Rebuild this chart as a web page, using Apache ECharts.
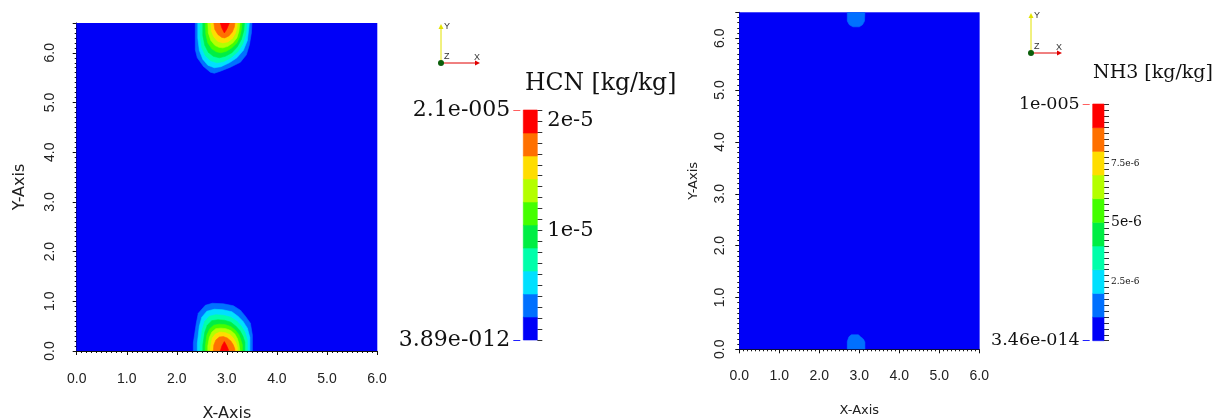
<!DOCTYPE html>
<html><head><meta charset="utf-8">
<script src="https://cdn.jsdelivr.net/npm/echarts@6/dist/echarts.min.js"></script>
<style>html,body{margin:0;padding:0;background:#fff}#c{width:1215px;height:418px}</style>
</head><body><div id="c"></div>
<script>
// ---------- DATA (concentrations in units of 1e-6 kg/kg) ----------
// Contour outlines [x, y] of each filled band.
// HCN, lower blob: band values (mid of band) and outlines
const hcnLowLevels = [3, 5, 7.5, 9.5, 11.5, 13.5, 16, 18, 20.5];
const hcnLowC1 = [[2.33,0],[2.33,0.16],[2.39,0.56],[2.43,0.76],[2.57,0.92],[2.71,0.96],[2.93,0.95],[3.13,0.91],[3.27,0.82],[3.37,0.70],[3.47,0.56],[3.51,0.32],[3.51,0]];
const hcnLowC2 = [[2.41,0],[2.41,0.15],[2.45,0.5],[2.5,0.68],[2.6,0.8],[2.75,0.84],[2.92,0.83],[3.1,0.79],[3.22,0.7],[3.32,0.6],[3.41,0.46],[3.46,0.27],[3.46,0]];
const hcnLowC3 = [[2.47,0],[2.47,0.14],[2.51,0.44],[2.56,0.6],[2.65,0.7],[2.78,0.73],[2.93,0.72],[3.08,0.68],[3.2,0.6],[3.29,0.5],[3.36,0.38],[3.41,0.22],[3.41,0]];
const hcnLowC4 = [[2.52,0],[2.52,0.12],[2.56,0.38],[2.61,0.52],[2.7,0.61],[2.82,0.63],[2.95,0.62],[3.08,0.58],[3.18,0.5],[3.26,0.41],[3.32,0.3],[3.36,0.18],[3.36,0]];
const hcnLowC5 = [[2.57,0],[2.57,0.1],[2.6,0.32],[2.66,0.45],[2.74,0.52],[2.85,0.54],[2.97,0.53],[3.08,0.49],[3.17,0.42],[3.24,0.33],[3.28,0.22],[3.31,0.12],[3.31,0]];
const hcnLowC6 = [[2.62,0],[2.62,0.1],[2.65,0.27],[2.7,0.38],[2.78,0.45],[2.88,0.46],[2.98,0.45],[3.08,0.41],[3.16,0.34],[3.21,0.25],[3.24,0.15],[3.26,0]];
const hcnLowC7 = [[2.67,0],[2.68,0.12],[2.71,0.26],[2.77,0.34],[2.86,0.38],[2.96,0.37],[3.06,0.33],[3.13,0.26],[3.18,0.17],[3.21,0.07],[3.21,0]];
const hcnLowC8 = [[2.73,0],[2.74,0.12],[2.78,0.22],[2.85,0.28],[2.93,0.29],[3.01,0.26],[3.08,0.2],[3.13,0.12],[3.16,0.04],[3.16,0]];
const hcnLowC9 = [[2.87,0],[2.9,0.1],[2.95,0.19],[2.99,0.12],[3.03,0.03],[3.03,0]];
// HCN, upper blob
const hcnHighLevels = [3, 5, 7.5, 9.5, 11.5, 13.5, 16, 18, 20.5];
const hcnHighC1 = [[2.37,6.6],[2.37,6.06],[2.41,5.9],[2.53,5.73],[2.67,5.61],[2.75,5.59],[2.87,5.63],[3.07,5.71],[3.27,5.81],[3.39,5.96],[3.45,6.16],[3.49,6.4],[3.5,6.6]];
const hcnHighC2 = [[2.42,6.6],[2.42,6.3],[2.45,6.05],[2.52,5.87],[2.62,5.75],[2.75,5.7],[2.88,5.72],[3.05,5.8],[3.2,5.9],[3.33,6.05],[3.41,6.25],[3.45,6.6]];
const hcnHighC3 = [[2.47,6.6],[2.47,6.32],[2.5,6.1],[2.57,5.94],[2.68,5.84],[2.8,5.8],[2.93,5.82],[3.08,5.9],[3.22,6.02],[3.32,6.18],[3.38,6.38],[3.4,6.6]];
const hcnHighC4 = [[2.52,6.6],[2.52,6.35],[2.56,6.15],[2.63,6.01],[2.73,5.93],[2.85,5.9],[2.97,5.93],[3.1,6.0],[3.21,6.12],[3.29,6.27],[3.34,6.45],[3.35,6.6]];
const hcnHighC5 = [[2.57,6.6],[2.58,6.37],[2.62,6.2],[2.7,6.08],[2.79,6.02],[2.88,6.0],[2.99,6.03],[3.1,6.1],[3.2,6.2],[3.26,6.33],[3.29,6.47],[3.3,6.6]];
const hcnHighC6 = [[2.62,6.6],[2.63,6.4],[2.68,6.25],[2.76,6.15],[2.84,6.11],[2.92,6.1],[3.02,6.13],[3.12,6.2],[3.2,6.3],[3.24,6.43],[3.26,6.6]];
const hcnHighC7 = [[2.68,6.6],[2.69,6.44],[2.74,6.32],[2.82,6.23],[2.92,6.2],[3.02,6.22],[3.11,6.29],[3.17,6.39],[3.2,6.5],[3.21,6.6]];
const hcnHighC8 = [[2.74,6.6],[2.76,6.47],[2.82,6.37],[2.9,6.31],[2.96,6.3],[3.04,6.34],[3.11,6.42],[3.15,6.52],[3.16,6.6]];
const hcnHighC9 = [[2.87,6.6],[2.9,6.5],[2.95,6.4],[3.0,6.48],[3.05,6.6]];
// NH3 blobs (lowest visible band only)
const nh3Levels = [1.5, 1.5];
const nh3LowC1 = [[2.7,0],[2.7,0.15],[2.74,0.24],[2.8,0.28],[2.98,0.28],[3.03,0.24],[3.1,0.2],[3.14,0.14],[3.14,0]];
const nh3HighC1 = [[2.7,6.5],[2.7,6.33],[2.75,6.26],[2.84,6.22],[3.0,6.22],[3.08,6.26],[3.13,6.33],[3.14,6.5]];
// domains and ranges
const hcnDomainX = [0, 6], hcnDomainY = [0, 6.6];
const nh3DomainX = [0, 6], nh3DomainY = [0, 6.5];
const hcnMin = 3.89e-6, hcnMax = 21;   // 3.89e-012 .. 2.1e-005 kg/kg
const nh3Min = 3.46e-8, nh3Max = 10;   // 3.46e-014 .. 1e-005 kg/kg
const hcnEdges = [0, 2.1, 4.2, 6.3, 8.4, 10.5, 12.6, 14.7, 16.8, 18.9, 21];
const nh3Edges = [0, 1, 2, 3, 4, 5, 6, 7, 8, 9, 10];
const hcnMinLabel = '3.89e-012', hcnMaxLabel = '2.1e-005';
const nh3MinLabel = '3.46e-014', nh3MaxLabel = '1e-005';
const hcnBarLabelValues = [10, 20], hcnBarLabels = ['1e-5', '2e-5'];
const nh3BarLabelValues = [2.5, 5, 7.5], nh3BarLabels = ['{s|2.5e-6}', '{b|5e-6}', '{s|7.5e-6}'];
const hcnBarTickStep = 1, nh3BarTickStep = 0.25;
const axisTicks = [0, 1, 2, 3, 4, 5, 6];
const bandColors = ['#0000f8', '#0070ff', '#00e0ff', '#00ffaa', '#00ee44', '#44ff00', '#b4ff00', '#ffdd00', '#ff7000', '#ff0000'];

// ---------- BUILD ----------
function domainPoly(dx, dy) { return [[dx[0], dy[0]], [dx[1], dy[0]], [dx[1], dy[1]], [dx[0], dy[1]]]; }
function buildField(dx, dy, minV, groups) {
  const polys = [domainPoly(dx, dy)], data = [[0, minV]];
  groups.forEach(g => g.contours.forEach((c, i) => { data.push([polys.length, g.levels[i]]); polys.push(c); }));
  return { polys, data };
}
const hcnField = buildField(hcnDomainX, hcnDomainY, hcnMin, [
  { levels: hcnLowLevels, contours: [hcnLowC1, hcnLowC2, hcnLowC3, hcnLowC4, hcnLowC5, hcnLowC6, hcnLowC7, hcnLowC8, hcnLowC9] },
  { levels: hcnHighLevels, contours: [hcnHighC1, hcnHighC2, hcnHighC3, hcnHighC4, hcnHighC5, hcnHighC6, hcnHighC7, hcnHighC8, hcnHighC9] }
]);
const nh3Field = buildField(nh3DomainX, nh3DomainY, nh3Min, [
  { levels: nh3Levels, contours: [nh3LowC1, nh3HighC1] }
]);
function bandPolys(edges) {
  const polys = [], data = [];
  for (let i = 0; i < edges.length - 1; i++) {
    data.push([polys.length, (edges[i] + edges[i + 1]) / 2]);
    polys.push([[0, edges[i]], [1, edges[i]], [1, edges[i + 1]], [0, edges[i + 1]]]);
  }
  return { polys, data };
}
const hcnBar = bandPolys(hcnEdges), nh3Bar = bandPolys(nh3Edges);
function tickList(max, step) { const t = []; for (let i = 0; i * step <= max + 1e-9; i++) t.push(+(i * step).toFixed(4)); return t; }
function pieces(edges) {
  return edges.slice(0, -1).map((e, i) => i === edges.length - 2
    ? { gte: e, lte: edges[i + 1], color: bandColors[i] }
    : { gte: e, lt: edges[i + 1], color: bandColors[i] });
}
function polyRenderer(polys) {
  return function (params, api) {
    const pts = polys[api.value(0)].map(p => api.coord(p));
    const c = api.visual('color');
    return { type: 'polygon', shape: { points: pts }, style: { fill: c, stroke: c, lineWidth: 0.6 } };
  };
}
const SANS = 'Liberation Sans';
const SERIF = 'DejaVu Serif';
function plotX(gi, nameSize, nameGap, margin) {
  return {
    type: 'value', gridIndex: gi, min: axisTicks[0], max: axisTicks[axisTicks.length - 1], interval: 1,
    name: 'X-Axis', nameLocation: 'middle', nameGap: nameGap,
    nameTextStyle: { fontFamily: 'DejaVu Sans', fontSize: nameSize, color: '#222' },
    axisLine: { show: true, onZero: false, lineStyle: { color: '#111', width: 1 } },
    axisTick: { show: true, length: 4, lineStyle: { color: '#111' } },
    minorTick: { show: true, splitNumber: 10, length: 2, lineStyle: { color: '#111' } },
    splitLine: { show: false },
    axisLabel: { margin: margin, fontFamily: SANS, fontSize: 14, color: '#222', formatter: v => v.toFixed(1) }
  };
}
function plotY(gi, max, nameSize, nameGap, margin) {
  return {
    type: 'value', gridIndex: gi, min: 0, max: max, interval: 1,
    name: 'Y-Axis', nameLocation: 'middle', nameGap: nameGap,
    nameTextStyle: { fontFamily: 'DejaVu Sans', fontSize: nameSize, color: '#222' },
    axisLine: { show: true, onZero: false, lineStyle: { color: '#111', width: 1 } },
    axisTick: { show: true, length: 4, lineStyle: { color: '#111' } },
    minorTick: { show: true, splitNumber: 10, length: 2, lineStyle: { color: '#111' } },
    splitLine: { show: false },
    axisLabel: { margin: margin, rotate: 90, fontFamily: SANS, fontSize: 14, color: '#222',
      formatter: v => (Math.abs(v - Math.round(v)) < 1e-9 ? v.toFixed(1) : '') }
  };
}
function cbarTickAxis(gi, max, step, labelValues, labels, margin, rich) {
  return {
    type: 'value', gridIndex: gi, min: 0, max: max, position: 'right', offset: 0,
    axisLine: { show: true, onZero: false, lineStyle: { color: 'rgba(0,0,0,0)', width: 1 } },
    axisTick: { show: true, inside: false, length: 5, customValues: tickList(max, step), lineStyle: { color: '#333', width: 1 } },
    splitLine: { show: false },
    axisLabel: { show: true, margin: margin, customValues: labelValues, fontFamily: SERIF, fontSize: 21, color: '#111',
      formatter: v => { const i = labelValues.findIndex(x => Math.abs(x - v) < 1e-9); return i >= 0 ? labels[i] : ''; },
      rich: rich }
  };
}
function cbarEndAxis(gi, max, value, label, color, size) {
  return {
    type: 'value', gridIndex: gi, min: 0, max: max, position: 'left', offset: 3,
    axisLine: { show: false, onZero: false },
    axisTick: { show: true, length: 7, customValues: [value], lineStyle: { color: color, width: 1 } },
    splitLine: { show: false },
    axisLabel: { show: true, margin: 10, customValues: [value], fontFamily: SERIF, fontSize: size, color: '#111',
      formatter: () => label }
  };
}
function triad(ox, oy, lenY, lenX) {
  return [
    { type: 'line', shape: { x1: ox, y1: oy, x2: ox, y2: oy - lenY + 4 }, style: { stroke: '#e2e200', lineWidth: 1 } },
    { type: 'polygon', shape: { points: [[ox - 2.5, oy - lenY + 5], [ox + 2.5, oy - lenY + 5], [ox, oy - lenY]] }, style: { fill: '#e2e200' } },
    { type: 'line', shape: { x1: ox, y1: oy, x2: ox + lenX - 4, y2: oy }, style: { stroke: '#e00000', lineWidth: 1 } },
    { type: 'polygon', shape: { points: [[ox + lenX - 5, oy - 2.5], [ox + lenX - 5, oy + 2.5], [ox + lenX, oy]] }, style: { fill: '#e00000' } },
    { type: 'circle', shape: { cx: ox, cy: oy, r: 3 }, style: { fill: '#0b5e0b' } },
    { type: 'text', x: ox + 3, y: oy - lenY - 2, style: { text: 'Y', fontSize: 9, fontFamily: SANS, fill: '#333' } },
    { type: 'text', x: ox + 3, y: oy - 11, style: { text: 'Z', fontSize: 9, fontFamily: SANS, fill: '#333' } },
    { type: 'text', x: ox + lenX - 6, y: oy - 10, style: { text: 'X', fontSize: 9, fontFamily: SANS, fill: '#333' } }
  ];
}
const hiddenX = gi => ({ type: 'value', gridIndex: gi, min: 0, max: 1, show: false });

const chart = echarts.init(document.getElementById('c'), null, { renderer: 'canvas' });
chart.setOption({
  animation: false,
  backgroundColor: '#ffffff',
  title: [
    { text: 'HCN [kg/kg]', left: 525, top: 72, padding: 0, textStyle: { fontFamily: SERIF, fontSize: 23.5, fontWeight: 'normal', color: '#111' } },
    { text: 'NH3 [kg/kg]', left: 1093, top: 64, padding: 0, textStyle: { fontFamily: SERIF, fontSize: 19, fontWeight: 'normal', color: '#111' } }
  ],
  grid: [
    { left: 76.7, top: 23, width: 300.3, height: 328, outerBoundsMode: 'none' },
    { left: 523.3, top: 110, width: 14, height: 230, outerBoundsMode: 'none' },
    { left: 739.3, top: 12.3, width: 240, height: 337, outerBoundsMode: 'none' },
    { left: 1092.7, top: 104, width: 11.3, height: 236.7, outerBoundsMode: 'none' },
    { left: 523.3, top: 110, width: 14, height: 230, outerBoundsMode: 'none' },
    { left: 1092.7, top: 104, width: 11.3, height: 236.7, outerBoundsMode: 'none' }
  ],
  xAxis: [
    plotX(0, 16, 55, 21),
    hiddenX(1),
    plotX(2, 13, 55, 20),
    hiddenX(3),
    hiddenX(4),
    hiddenX(5)
  ],
  yAxis: [
    plotY(0, hcnDomainY[1], 16, 49, 20),
    cbarEndAxis(1, hcnMax, hcnMax, hcnMaxLabel, '#ff6060', 22),
    cbarEndAxis(1, hcnMax, 0, hcnMinLabel, '#2020ff', 22),
    plotY(2, nh3DomainY[1], 13, 39, 12),
    cbarEndAxis(3, nh3Max, nh3Max, nh3MaxLabel, '#ff6060', 17.5),
    cbarEndAxis(3, nh3Max, 0, nh3MinLabel, '#2020ff', 17.5),
    cbarTickAxis(4, hcnMax, hcnBarTickStep, hcnBarLabelValues, hcnBarLabels, 10),
    cbarTickAxis(5, nh3Max, nh3BarTickStep, nh3BarLabelValues, nh3BarLabels, 7,
      { b: { fontFamily: SERIF, fontSize: 14, color: '#111' }, s: { fontFamily: SERIF, fontSize: 9, color: '#111' } })
  ],
  visualMap: [
    { type: 'piecewise', show: false, dimension: 1, seriesIndex: [0, 1], pieces: pieces(hcnEdges) },
    { type: 'piecewise', show: false, dimension: 1, seriesIndex: [2, 3], pieces: pieces(nh3Edges) }
  ],
  series: [
    { type: 'custom', name: 'HCN', xAxisIndex: 0, yAxisIndex: 0, renderItem: polyRenderer(hcnField.polys), data: hcnField.data, clip: true },
    { type: 'custom', name: 'HCN scale', xAxisIndex: 1, yAxisIndex: 1, renderItem: polyRenderer(hcnBar.polys), data: hcnBar.data },
    { type: 'custom', name: 'NH3', xAxisIndex: 2, yAxisIndex: 3, renderItem: polyRenderer(nh3Field.polys), data: nh3Field.data, clip: true },
    { type: 'custom', name: 'NH3 scale', xAxisIndex: 3, yAxisIndex: 4, renderItem: polyRenderer(nh3Bar.polys), data: nh3Bar.data }
  ],
  graphic: triad(441, 63, 39, 39).concat(triad(1031, 53, 40, 31))
});
</script></body></html>
